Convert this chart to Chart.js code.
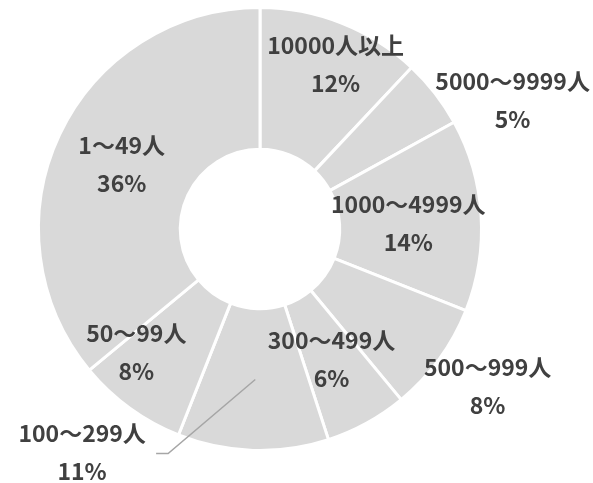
<!DOCTYPE html>
<html>
<head>
<meta charset="utf-8">
<script src="https://cdn.jsdelivr.net/npm/chart.js@4/dist/chart.umd.min.js"></script>
<style>
  html, body { margin: 0; padding: 0; background: #fff; }
  #wrap { width: 593px; height: 483px; }
</style>
</head>
<body>
<div id="wrap"><canvas id="size-chart"></canvas></div>
<script>
const categories = ['10000人以上', '5000～9999人', '1000～4999人', '500～999人', '300～499人', '100～299人', '50～99人', '1～49人'];
const shares = [12, 5, 14, 8, 6, 11, 8, 36];

// label placement: fraction of outer radius, angle shift in degrees
const labelPlace = [
  [0.82, 3], [1.28, 10.8], [0.67, 1.3], [1.25, -1.3],
  [0.67, 0], [1.29, 36.7], [0.79, 9], [0.69, 0]
];
const leaderIndex = 5;

const labelPlugin = {
  id: 'sliceLabels',
  afterDatasetsDraw(chart) {
    const ctx = chart.ctx;
    const meta = chart.getDatasetMeta(0);
    ctx.save();
    ctx.font = 'bold 23px "Noto Sans CJK JP"';
    ctx.fillStyle = '#404040';
    ctx.textAlign = 'center';
    ctx.textBaseline = 'middle';
    meta.data.forEach((arc, i) => {
      const p = arc.getProps(['x', 'y', 'startAngle', 'endAngle', 'outerRadius'], true);
      const mid = (p.startAngle + p.endAngle) / 2;
      const a = mid + labelPlace[i][1] * Math.PI / 180;
      const r = p.outerRadius * labelPlace[i][0];
      const lx = p.x + Math.cos(a) * r;
      const ly = p.y + Math.sin(a) * r;
      if (i === leaderIndex) {
        const sx = p.x + Math.cos(mid) * p.outerRadius * 0.68;
        const sy = p.y + Math.sin(mid) * p.outerRadius * 0.68;
        ctx.strokeStyle = '#a6a6a6';
        ctx.lineWidth = 1.5;
        ctx.beginPath();
        ctx.moveTo(sx, sy);
        ctx.lineTo(lx + 86, ly + 1);
        ctx.lineTo(lx + 74, ly + 1);
        ctx.stroke();
      }
      ctx.fillText(categories[i], lx, ly - 19);
      ctx.fillText(shares[i] + '%', lx, ly + 19);
    });
    ctx.restore();
  }
};

new Chart(document.getElementById('size-chart'), {
  type: 'doughnut',
  data: {
    labels: categories,
    datasets: [{
      data: shares,
      backgroundColor: '#d9d9d9',
      borderColor: '#ffffff',
      borderWidth: 3
    }]
  },
  options: {
    responsive: true,
    maintainAspectRatio: false,
    animation: false,
    cutout: '36%',
    layout: {
      padding: { left: 37, right: 110, top: 6, bottom: 31 }
    },
    plugins: {
      legend: { display: false },
      tooltip: { enabled: false }
    }
  },
  plugins: [labelPlugin]
});
</script>
</body>
</html>
